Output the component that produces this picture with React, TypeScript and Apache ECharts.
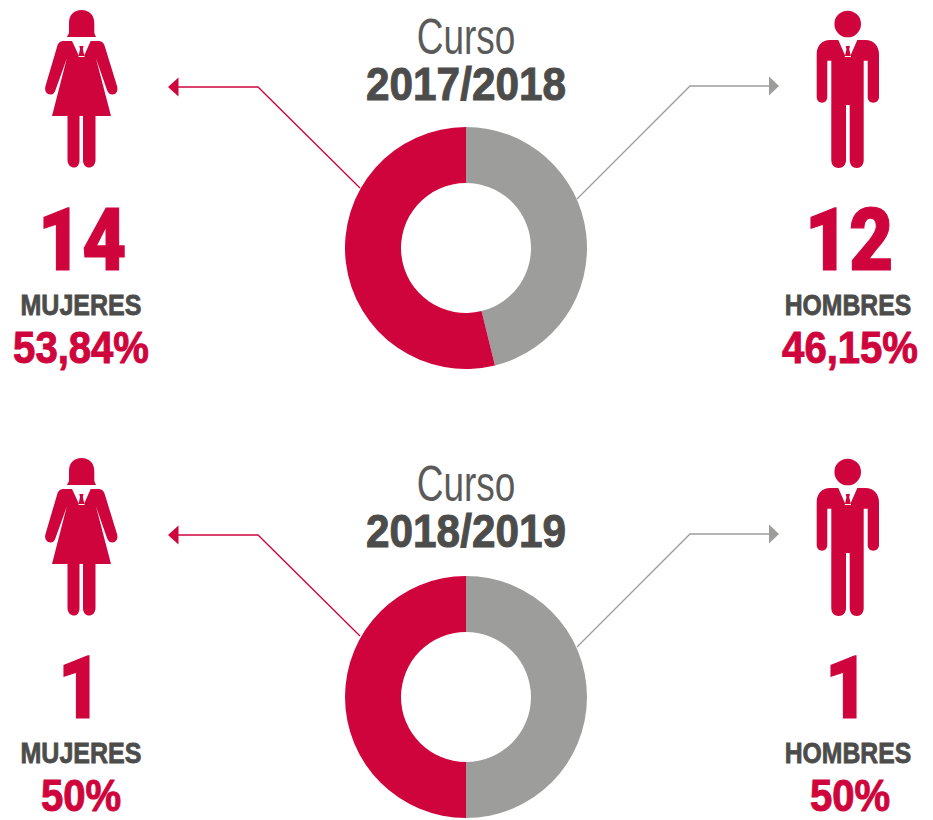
import React, { useEffect, useRef } from "react";
import * as echarts from "echarts";

const courses = ["2017/2018", "2018/2019"];
const mujeres = [14, 1];
const hombres = [12, 1];
const mujeresPct = ["53,84%", "50%"];
const hombresPct = ["46,15%", "50%"];
const labelMujeres = "MUJERES";
const labelHombres = "HOMBRES";
const labelCurso = "Curso";

const RED = "#CF043C";
const GREY = "#9D9D9C";
const DARK = "#4C4C4B";
const FONT = '"Liberation Sans", Arial, sans-serif';
const NUM_FONT = 'Roboto, "Liberation Sans", Arial, sans-serif';

const womanPath =
  "M67,37 C67.5,35 69,34.5 69,32 L69,23 C69,15 74,10 81.5,10 C89,10 94.3,15 94.3,23 L94.3,32 C94.3,34.5 95.5,35 96,37 Z " +
  "M72,41 L64,41 C60,41 58,43 57,47 L45.5,86 C44,91 47,94.5 50.5,94.5 C53,94.5 54.5,93 55.5,90 L66.8,58.5 L52,116 L67.5,116 L67.5,160 C67.5,165 71,167.5 74,167.5 C77,167.5 79.5,165 79.5,160 L79.5,116 L83,116 L83,160 C83,165 86,167.5 89,167.5 C92,167.5 95.5,165 95.5,160 L95.5,116 L111,116 L96,58.5 L107,90 C108,93 110,94.5 112.5,94.5 C116,94.5 118.5,91 117,86 L105,47 C104,43 102,41 98,41 L90.7,41 L84,56 L79,56 Z " +
  "M79.3,46 L83.6,46 L82.8,49 L84.6,57 L78.4,57 L80,49 Z";

const manPath =
  "M834.4,24 A13.3,13.3 0 1 0 861,24 A13.3,13.3 0 1 0 834.4,24 Z " +
  "M838.3,40 L830,40 C822,40 816.7,46 816.7,54 L816.7,97 C816.7,100.5 819,102.7 822,102.7 C825,102.7 827.3,100.5 827.3,97 L827.3,60.7 L831.3,60.7 L831.3,160 C831.3,165 834.5,168 838.6,168 C843,168 846,165 846,160 L846,105 L849.7,105 L849.7,160 C849.7,165 852.7,168 856.8,168 C860.8,168 863.7,165 863.7,160 L863.7,60.7 L867.7,60.7 L867.7,97 C867.7,100.5 870,102.7 873.3,102.7 C876.5,102.7 879,100.5 879,97 L879,54 C879,46 873.5,40 865.5,40 L857.3,40 L850.3,56 L845.3,56 Z " +
  "M845.7,46 L850,46 L849.2,49 L851,57 L844.7,57 L846.5,49 Z";

echarts.graphic.registerShape("woman", echarts.graphic.extendPath(womanPath as any, {}) as any);
echarts.graphic.registerShape("man", echarts.graphic.extendPath(manPath as any, {}) as any);

function txt(text: string, x: number, y: number, size: number, weight: any, fill: string, sx = 1, sw = 0, family = FONT) {
  return {
    type: "text", x, y, scaleX: sx,
    style: {
      text, fill, textAlign: "center", textVerticalAlign: "middle",
      font: `${weight} ${size}px ${family}`,
      ...(sw ? { stroke: fill, lineWidth: sw } : {}),
    },
  };
}

function App() {
  const ref = useRef<HTMLDivElement>(null);
  useEffect(() => {
    const chart = echarts.init(ref.current!, undefined, { renderer: "svg" });
    const centers = [248, 697];
    const graphics: any[] = [];
    courses.forEach((c, i) => {
      const d = 448 * i;
      const e = i ? 1 : 0;
      graphics.push(
        { type: "woman", x: 0, y: d, style: { fill: RED } },
        { type: "man", x: 0, y: d, style: { fill: RED } },
        { type: "polyline", shape: { points: [[360, 188 + d], [258, 87 + d], [178, 87 + d]] }, style: { stroke: RED, lineWidth: 1.3, fill: "none" } },
        { type: "polygon", shape: { points: [[168, 87 + d], [178.5, 77.5 + d], [178.5, 96.5 + d]] }, style: { fill: RED } },
        { type: "polyline", shape: { points: [[577, 199 + d], [690, 86 + d], [770, 86 + d]] }, style: { stroke: GREY, lineWidth: 1.3, fill: "none" } },
        { type: "polygon", shape: { points: [[779, 86 + d], [769, 76.5 + d], [769, 95.5 + d]] }, style: { fill: GREY } },
        txt(labelCurso, 466, 36 + d - e, 50, "normal", "#5A5A59", 0.74),
        txt(c, 466, 84 + d - e, 47, "bold", DARK, 0.9, 1),
        txt(String(mujeres[i]), i ? 80 : 82, 240 + d, 88, 900, RED, 0.87, 1.2, NUM_FONT),
        txt(String(hombres[i]), i ? 847 : 849, 240 + d, 88, 900, RED, 0.87, 1.2, NUM_FONT),
        txt(labelMujeres, 81, 305 + d, 30, "bold", DARK, 0.835, 0.8),
        txt(labelHombres, 848, 305 + d, 30, "bold", DARK, 0.825, 0.8),
        txt(mujeresPct[i], 81, 347 + d, 45, "bold", RED, 0.89, 1),
        txt(hombresPct[i], 850, 347 + d, 45, "bold", RED, 0.89, 1),
      );
    });
    chart.setOption({
      animation: false,
      graphic: graphics,
      series: courses.map((c, i) => ({
        type: "pie",
        name: c,
        silent: true,
        center: [466, centers[i]],
        radius: [65, 121],
        startAngle: 90,
        clockwise: true,
        label: { show: false },
        labelLine: { show: false },
        data: [
          { name: labelHombres, value: hombres[i], itemStyle: { color: GREY } },
          { name: labelMujeres, value: mujeres[i], itemStyle: { color: RED } },
        ],
      })),
    });
    return () => chart.dispose();
  }, []);
  return <div ref={ref} style={{ position: "absolute", left: 0, top: 0, width: 933, height: 820 }} />;
}

export default App;
